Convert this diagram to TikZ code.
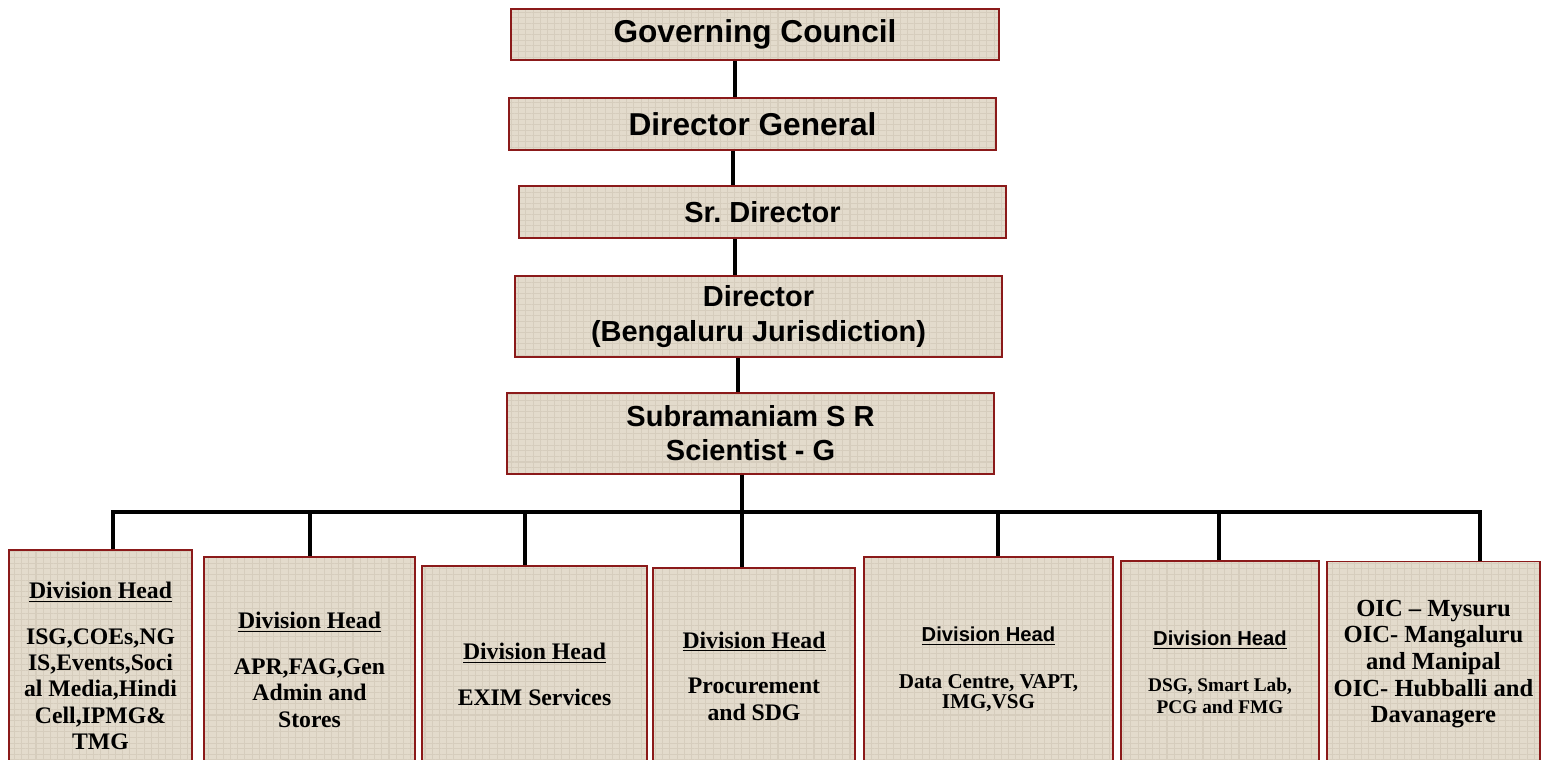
\documentclass[tikz,border=0pt]{standalone}
\usepackage{fontspec}
\setmainfont{Liberation Serif}
\setsansfont{Liberation Sans}
\usetikzlibrary{patterns.meta}
\definecolor{postred}{RGB}{139,26,26}
\definecolor{linen}{RGB}{227,219,204}
\definecolor{weave}{RGB}{214,205,189}

\begin{document}
\begin{tikzpicture}[x=0.02cm,y=-0.02cm,
  post/.style={draw=postred, line width=1.1pt, inner sep=0pt, align=center,
    preaction={fill=linen},
    preaction={pattern={Lines[angle=0,distance=3.2pt,line width=0.6pt]}, pattern color=weave},
    preaction={pattern={Lines[angle=90,distance=4.1pt,line width=0.6pt]}, pattern color=weave}},
  head/.style={font=\sffamily\bfseries\fontsize{16.5}{19.5}\selectfont},
  divn/.style={font=\bfseries\fontsize{13.5}{15}\selectfont},
  link/.style={line width=2pt}]
\useasboundingbox (0,0) rectangle (1542,760);
\node [post, head, font=\sffamily\bfseries\fontsize{18}{21}\selectfont, minimum width=9.76cm, minimum height=1.02cm] (gc) at (755,34.5) {Governing Council};
\node [post, head, font=\sffamily\bfseries\fontsize{18}{21}\selectfont, minimum width=9.74cm, minimum height=1.04cm] (dg) at (752.5,124) {Director General};
\node [post, head, minimum width=9.74cm, minimum height=1.04cm] (sd) at (762.5,212) {Sr.\ Director};
\node [post, head, minimum width=9.74cm, minimum height=1.62cm] (dir) at (758.5,316.5) {Director\\(Bengaluru Jurisdiction)};
\node [post, head, minimum width=9.74cm, minimum height=1.62cm] (sub) at (750.5,433.5) {Subramaniam S R\\Scientist - G};

\node [post, divn, minimum width=3.66cm, minimum height=4.64cm] (b1) at (100.5,666) {\underline{Division Head}\\[11pt]ISG,COEs,NG\\IS,Events,Soci\\al Media,Hindi\\Cell,IPMG\&\\TMG};
\node [post, divn, minimum width=4.22cm, minimum height=4.52cm] (b2) at (309.5,670) {\underline{Division Head}\\[11pt]APR,FAG,Gen\\Admin and\\Stores};
\node [post, divn, minimum width=4.5cm, minimum height=4.34cm] (b3) at (534.5,674.5) {\underline{Division Head}\\[11pt]EXIM Services};
\node [post, divn, minimum width=4.04cm, minimum height=4.32cm] (b4) at (754,676) {\underline{Division Head}\\[11pt]Procurement\\and SDG};
\node [post, divn, font=\bfseries\fontsize{12}{11.5}\selectfont, minimum width=4.98cm, minimum height=4.5cm] (b5) at (988.5,669.5) {{\sffamily\fontsize{11.5}{13}\selectfont\underline{Division Head}}\\[15pt]Data Centre, VAPT,\\IMG,VSG};
\node [post, divn, font=\bfseries\fontsize{11}{13}\selectfont, minimum width=3.96cm, minimum height=4.46cm] (b6) at (1220,672.5) {{\sffamily\fontsize{11.5}{13}\selectfont\underline{Division Head}}\\[13pt]DSG, Smart Lab,\\PCG and FMG};
\node [post, divn, font=\bfseries\fontsize{14}{15.2}\selectfont, minimum width=4.26cm, minimum height=4.1cm] (b7) at (1433.5,664) {OIC -- Mysuru\\OIC- Mangaluru\\and Manipal\\OIC- Hubballi and\\Davanagere};

\foreach \a/\b/\x in {gc/dg/735, dg/sd/733, sd/dir/735, dir/sub/738}
  {\coordinate (x) at (\x,0);
   \draw [link] (\a.south -| x) -- (\b.north -| x);}
\coordinate (bus) at (742,512);
\draw [link] (sub.south -| bus) -- (bus);
\foreach \i/\x in {1/113,2/310,3/525,4/742,5/998,6/1219,7/1480}
  \coordinate (d\i) at (\x,512);
\draw [link] (d1 |- b1.north) -- (d1) -- (d7) -- (d7 |- b7.north);
\foreach \i in {2,...,6}
  \draw [link] (d\i) -- (d\i |- b\i.north);
\end{tikzpicture}
\end{document}
